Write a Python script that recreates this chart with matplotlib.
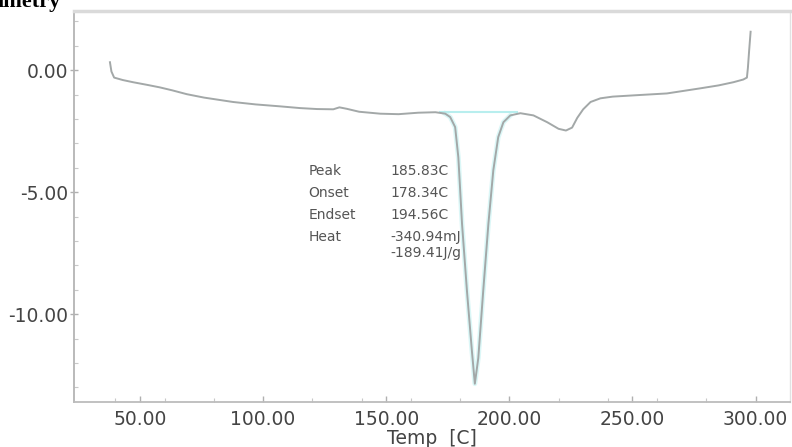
import matplotlib
matplotlib.use("Agg")
import matplotlib.pyplot as plt
import numpy as np
from matplotlib.ticker import MultipleLocator, FormatStrFormatter

# DSC trace (Temp in C, heat flow)
temp = [37.8, 38.4, 39.5, 43.0, 47.2, 53.0, 58.0, 63.0, 69.0, 76.0,
        87.8, 97.0, 107.0, 115.0, 122.0, 128.5, 131.0, 134.0, 139.0, 147.6,
        155.0, 163.0, 170.0, 174.0, 176.0, 178.0, 179.3, 180.8, 182.8, 184.8,
        186.0, 187.4, 189.4, 191.5, 193.5, 195.5, 197.6, 200.4, 204.5, 209.8,
        215.4, 220.0, 223.0, 225.5, 227.6, 230.0, 233.0, 237.0, 242.0, 252.0,
        264.0, 277.6, 285.0, 291.0, 295.0, 296.5, 296.9, 297.4, 298.0]
heat = [0.33, -0.05, -0.30, -0.40, -0.49, -0.60, -0.70, -0.82, -0.98, -1.12,
        -1.30, -1.40, -1.48, -1.55, -1.59, -1.60, -1.52, -1.58, -1.70, -1.78,
        -1.80, -1.74, -1.72, -1.78, -1.92, -2.33, -3.57, -6.30, -9.05, -11.50,
        -12.85, -11.80, -9.05, -6.30, -4.10, -2.74, -2.13, -1.85, -1.76, -1.85,
        -2.13, -2.40, -2.47, -2.35, -1.95, -1.60, -1.30, -1.15, -1.08, -1.02,
        -0.95, -0.74, -0.62, -0.49, -0.38, -0.30, 0.10, 0.80, 1.58]

# integration limits / baseline of the melting peak
peak_from, peak_to = 172.0, 203.0
baseline = -1.72

labels = ["Peak", "Onset", "Endset", "Heat", ""]
values = ["185.83C", "178.34C", "194.56C", "-340.94mJ", "-189.41J/g"]

xticks = [50, 100, 150, 200, 250, 300]
yticks = [0, -5, -10]

fig = plt.figure(figsize=(7.92, 4.47), dpi=100)
ax = fig.add_axes([74 / 792, 1 - 402 / 447, 716 / 792, 391 / 447])

t = np.array(temp)
h = np.array(heat)
mask = (t >= peak_from) & (t <= peak_to)

# cyan shade along the peak, then the trace itself
ax.plot(t[mask], h[mask], color="#c4f2f2", linewidth=3.5, alpha=0.6, zorder=1)
ax.plot([peak_from, peak_to], [baseline, baseline], color="#b8eeee", linewidth=1.5, zorder=1)
ax.plot(t, h, color="#a3a8a8", linewidth=1.4, zorder=2)

# peak report text
y0 = -4.12
for i, (lab, val) in enumerate(zip(labels, values)):
    yy = y0 - i * 0.9 if i < 4 else y0 - 3 * 0.9 - 0.68
    ax.text(118.3, yy, lab, fontsize=10, color="#555555", va="center", ha="left")
    ax.text(151.6, yy, val, fontsize=10, color="#555555", va="center", ha="left")

ax.set_xlim(23.2, 314)
ax.set_ylim(-13.6, 2.43)
ax.set_xticks(xticks)
ax.set_yticks(yticks)
ax.xaxis.set_major_formatter(FormatStrFormatter("%.2f"))
ax.yaxis.set_major_formatter(FormatStrFormatter("%.2f"))
ax.xaxis.set_minor_locator(MultipleLocator(20))
ax.yaxis.set_minor_locator(MultipleLocator(1))

ax.tick_params(axis="x", which="major", direction="in", length=4, width=1,
               color="#b0b0b0", labelsize=13.5, labelcolor="#444444", pad=6)
ax.tick_params(axis="x", which="minor", direction="in", length=3, width=0.8, color="#c8c8c8")
ax.tick_params(axis="y", which="major", direction="inout", length=6, width=1,
               color="#b0b0b0", labelsize=13.5, labelcolor="#444444", pad=1)
ax.tick_params(axis="y", which="minor", direction="in", length=3, width=0.8, color="#c8c8c8")

ax.set_xlabel("Temp  [C]", fontsize=13.5, color="#444444", labelpad=0)

ax.spines["left"].set_color("#b4b4b4")
ax.spines["left"].set_linewidth(1.3)
ax.spines["bottom"].set_color("#bcbcbc")
ax.spines["bottom"].set_linewidth(1.3)
ax.spines["top"].set_color("#dadada")
ax.spines["top"].set_linewidth(2.5)
ax.spines["right"].set_color("#e2e2e2")
ax.spines["right"].set_linewidth(1)

# title remnant at the very top (cropped in the original)
fig.text(-2 / 792, 1 - 7 / 447, "imetry", fontsize=16, fontweight="bold",
         family="Liberation Serif", color="black", va="baseline", ha="left")

fig.savefig("out.png", dpi=100)
